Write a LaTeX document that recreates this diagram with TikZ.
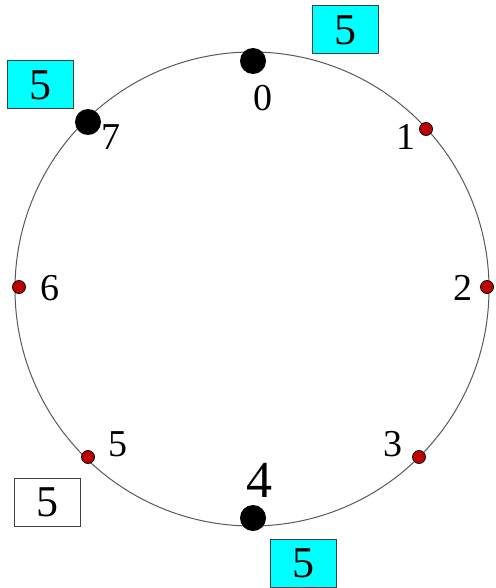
\documentclass[tikz,border=0pt]{standalone}
\usepackage{fontspec}
\setmainfont{Liberation Serif}
\definecolor{boxcyan}{RGB}{0,255,255}
\definecolor{dotred}{RGB}{190,0,0}
\begin{document}
\begin{tikzpicture}[x=1pt,y=-1pt,
  bigdot/.style={circle,fill=black,draw=none,minimum size=26pt,inner sep=0pt},
  reddot/.style={circle,fill=dotred,draw=black,line width=0.8pt,minimum size=13pt,inner sep=0pt},
  lbl/.style={inner sep=0pt,font=\fontsize{38}{40}\selectfont},
  biglbl/.style={inner sep=0pt,font=\fontsize{52}{54}\selectfont},
  valbox/.style={draw=black!75,line width=1pt,minimum width=66pt,minimum height=48pt,inner sep=0pt,font=\fontsize{44}{46}\selectfont},
  cyanbox/.style={valbox,fill=boxcyan}]
\useasboundingbox (0,0) rectangle (495,588);
\draw[black!65,line width=1pt] (252,289) circle [radius=237pt];
\node[bigdot] (n0) at (253,61) {};
\node[bigdot] (n7) at (88,122) {};
\node[bigdot] (n4) at (253,518) {};
\node[reddot] (n1) at (426,129) {};
\node[reddot] (n2) at (487,287) {};
\node[reddot] (n3) at (419,457) {};
\node[reddot] (n5) at (88,457) {};
\node[reddot] (n6) at (19,287) {};
\node[lbl] (l0) at (263,98) {0};
\node[lbl] (l7) at (111,137) {7};
\node[lbl] (l1) at (406,137) {1};
\node[lbl] (l2) at (463,288) {2};
\node[lbl] (l6) at (50,288) {6};
\node[lbl] (l3) at (393,444) {3};
\node[lbl] (l5) at (118,444) {5};
\node[biglbl] (l4) at (259,480) {4};
\node[cyanbox] (b0) at (345,30) {5};
\node[cyanbox] (b7) at (40,85) {5};
\node[valbox,fill=white] (b5) at (47,502) {5};
\node[cyanbox] (b4) at (303,563) {5};
\end{tikzpicture}
\end{document}
